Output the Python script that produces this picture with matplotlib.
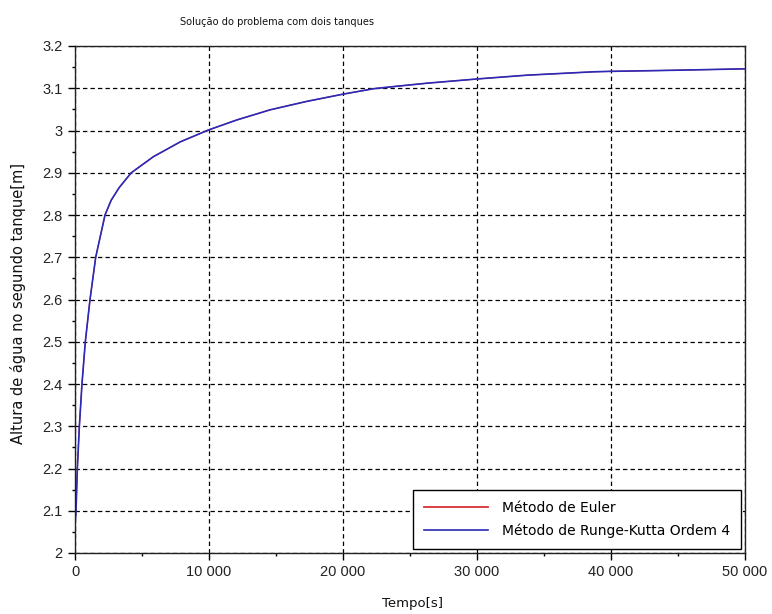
import matplotlib
matplotlib.use("Agg")
import matplotlib.pyplot as plt
from matplotlib.ticker import MultipleLocator, FuncFormatter

# Data
tempo = [0, 75, 175, 325, 520, 770, 1120, 1545, 2240, 2700, 3300, 4200,
         5850, 7850, 9940, 12080, 14570, 17310, 20000, 22300, 23790, 26280,
         30020, 33760, 38740, 40000, 43720, 46960, 50000]
altura_rk4 = [2.066, 2.1, 2.2, 2.3, 2.4, 2.5, 2.6, 2.7, 2.8, 2.835, 2.865, 2.9,
              2.938, 2.973, 3.001, 3.025, 3.049, 3.069, 3.086, 3.099, 3.104, 3.112,
              3.122, 3.131, 3.139, 3.140, 3.142, 3.144, 3.146]
altura_euler = list(altura_rk4)  # the Euler curve is hidden under the RK4 curve

title = "Solução do problema com dois tanques"
xlabel = "Tempo[s]"
ylabel = "Altura de água no segundo tanque[m]"
legend_labels = ["Método de Euler", "Método de Runge-Kutta Ordem 4"]

plt.rcParams['font.family'] = ['Liberation Sans', 'DejaVu Sans']

W, H = 772, 614
fig = plt.figure(figsize=(W / 100, H / 100), dpi=100)
ax = fig.add_axes([75 / W, 1 - 553 / H, (745 - 75) / W, (553 - 46) / H])

ax.plot(tempo, altura_euler, color='#e02020', lw=0.8, label=legend_labels[0])
ax.plot(tempo, altura_rk4, color='#2a2ab8', lw=1.2, label=legend_labels[1])

ax.set_xlim(0, 50000)
ax.set_ylim(2.0, 3.2)
ax.xaxis.set_major_locator(MultipleLocator(10000))
ax.xaxis.set_minor_locator(MultipleLocator(5000))
ax.yaxis.set_major_locator(MultipleLocator(0.1))
ax.yaxis.set_minor_locator(MultipleLocator(0.05))
ax.xaxis.set_major_formatter(FuncFormatter(lambda v, p: f"{int(round(v)):,}".replace(",", " ")))
ax.yaxis.set_major_formatter(FuncFormatter(lambda v, p: f"{v:.1f}".rstrip('0').rstrip('.')))

ax.grid(True, which='major', color='black', linestyle=(0, (3.5, 2.5)), linewidth=0.9)
ax.tick_params(which='major', direction='out', length=5, width=1, labelsize=10.5,
               labelcolor='#222222', pad=4)
ax.tick_params(which='minor', direction='out', length=2.5, width=1)
for s in ax.spines.values():
    s.set_linewidth(1.0)
    s.set_color('#222222')

fig.text(277 / W, 1 - 22 / H, title, ha='center', va='center', fontsize=7.8,
         family=['DejaVu Sans'], fontstretch='condensed', color='#111111')
fig.text(412 / W, 1 - 603 / H, xlabel, ha='center', va='center', fontsize=9.5,
         family=['DejaVu Sans'], color='#111111')
fig.text(18 / W, 1 - 303 / H, ylabel, ha='center', va='center', rotation=90,
         fontsize=10.5, family=['DejaVu Sans'], color='#111111')

leg = ax.legend(loc='lower right', bbox_to_anchor=(741 / W, 1 - 549 / H),
                bbox_transform=fig.transFigure, fancybox=False, framealpha=1,
                edgecolor='black', prop={'family': 'DejaVu Sans', 'size': 10},
                handlelength=4.6, borderpad=0.8, labelspacing=0.6,
                handletextpad=1.0, borderaxespad=0)
leg.get_frame().set_linewidth(1.0)
leg.get_lines()[0].set_linewidth(1.3)
leg.get_lines()[0].set_color('#d83030')

fig.savefig("out.png", dpi=100)
